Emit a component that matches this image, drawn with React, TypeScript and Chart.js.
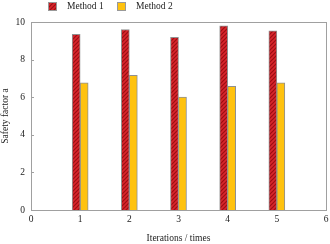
import React, { useEffect, useRef } from "react";
import { Chart, registerables } from "chart.js";

Chart.register(...registerables);

const iterations = [1, 2, 3, 4, 5];
const method1 = [9.35, 9.6, 9.18, 9.8, 9.53];
const method2 = [6.77, 7.16, 6.01, 6.58, 6.76];
const seriesNames = ["Method 1", "Method 2"];
const xTitle = "Iterations / times";
const yTitle = "Safety factor a";

const FONT = "'Liberation Serif', 'Times New Roman', serif";

function makeHatch(): CanvasPattern | string {
  const c = document.createElement("canvas");
  c.width = 4;
  c.height = 4;
  const g = c.getContext("2d");
  if (!g) return "#d0222a";
  g.fillStyle = "#d8262c";
  g.fillRect(0, 0, 4, 4);
  g.strokeStyle = "#9c0c12";
  g.lineWidth = 1.2;
  g.beginPath();
  g.moveTo(0, 4);
  g.lineTo(4, 0);
  g.moveTo(-2, 2);
  g.lineTo(2, -2);
  g.moveTo(2, 6);
  g.lineTo(6, 2);
  g.stroke();
  const p = g.createPattern(c, "repeat");
  return p || "#d0222a";
}

export default function App() {
  const ref = useRef<HTMLCanvasElement | null>(null);
  useEffect(() => {
    if (!ref.current) return;
    const hatch = makeHatch();
    const fills = [hatch, "#ffc20e"];

    const framePlugin = {
      id: "frame",
      afterDraw(chart: any) {
        const { ctx, chartArea: a } = chart;
        ctx.save();
        ctx.strokeStyle = "#a0a0a0";
        ctx.lineWidth = 1;
        ctx.strokeRect(Math.round(a.left) + 0.5, Math.round(a.top) + 0.5, Math.round(a.right - a.left), Math.round(a.bottom - a.top));
        // legend
        const legendX = [48, 117];
        ctx.font = "9.5px " + FONT;
        ctx.textBaseline = "middle";
        ctx.textAlign = "left";
        seriesNames.forEach((name, i) => {
          const x = legendX[i];
          const y = 2;
          ctx.fillStyle = fills[i] as any;
          ctx.fillRect(x, y, 8, 8);
          ctx.strokeStyle = "#999";
          ctx.strokeRect(x + 0.5, y + 0.5, 8, 8);
          ctx.fillStyle = "#222";
          ctx.fillText(name, x + 19, y + 4.5);
        });
        ctx.restore();
      },
    };

    const chart = new Chart(ref.current, {
      type: "bar",
      data: {
        datasets: [
          {
            label: seriesNames[0],
            data: iterations.map((x, i) => ({ x, y: method1[i] })),
            backgroundColor: hatch as any,
            borderColor: "#909090",
            borderWidth: 1,
            barThickness: 8,
          },
          {
            label: seriesNames[1],
            data: iterations.map((x, i) => ({ x, y: method2[i] })),
            backgroundColor: "#ffc20e",
            borderColor: "#909090",
            borderWidth: 1,
            barThickness: 8,
          },
        ],
      },
      options: {
        animation: false,
        responsive: false,
        maintainAspectRatio: false,
        layout: { padding: { top: 22, right: 4, left: 0, bottom: 0 } },
        plugins: {
          legend: { display: false },
          tooltip: { enabled: false },
        },
        scales: {
          x: {
            type: "linear",
            min: 0,
            max: 6,
            offset: false,
            grid: { display: false, drawTicks: false },
            border: { display: false },
            ticks: {
              stepSize: 1,
              color: "#222",
              font: { family: FONT, size: 9.5 },
              padding: 4,
            },
            title: {
              display: true,
              text: xTitle,
              color: "#222",
              font: { family: FONT, size: 9.5 },
              padding: { top: 8, bottom: 0 },
            },
            afterFit(scale: any) {
              scale.height = 34;
              scale.paddingLeft = 0;
              scale.paddingRight = 0;
            },
          },
          y: {
            min: 0,
            max: 10,
            grid: { display: false, drawTicks: false },
            border: { display: false },
            ticks: {
              stepSize: 2,
              color: "#222",
              font: { family: FONT, size: 9.5 },
              padding: 6,
            },
            title: {
              display: true,
              text: yTitle,
              color: "#222",
              font: { family: FONT, size: 9.5 },
              padding: { top: 0, bottom: 4 },
            },
            afterFit(scale: any) {
              scale.width = 31;
              scale.paddingTop = 0;
              scale.paddingBottom = 0;
            },
          },
        },
      },
      plugins: [
        framePlugin,
        {
          id: "ytickmarks",
          afterDraw(chart: any) {
            const { ctx, chartArea: a, scales } = chart;
            ctx.save();
            ctx.strokeStyle = "#a0a0a0";
            ctx.lineWidth = 1;
            [2, 4, 6, 8].forEach((v) => {
              const y = Math.round(scales.y.getPixelForValue(v)) + 0.5;
              ctx.beginPath();
              ctx.moveTo(a.left, y);
              ctx.lineTo(a.left + 3, y);
              ctx.stroke();
            });
            ctx.restore();
          },
        },
      ],
    } as any);
    return () => chart.destroy();
  }, []);

  return (
    <div style={{ position: "fixed", left: 0, top: 0, width: 330, height: 244, background: "#fff" }}>
      <canvas ref={ref} width={330} height={244} style={{ width: 330, height: 244, display: "block" }} />
    </div>
  );
}
